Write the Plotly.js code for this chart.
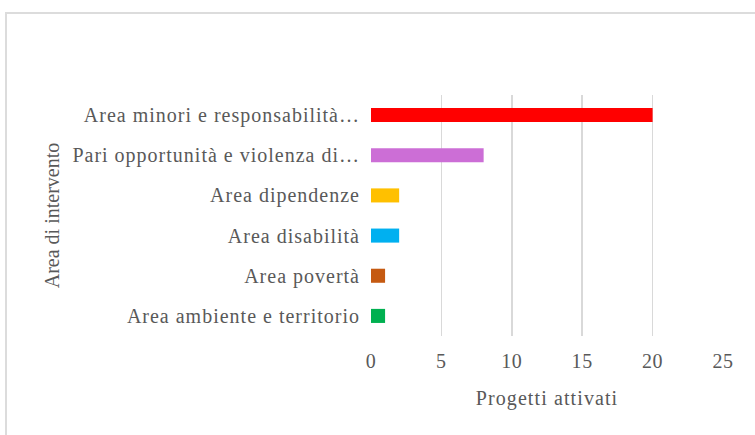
<!DOCTYPE html>
<html>
<head>
<meta charset="utf-8">
<script src="https://cdn.plot.ly/plotly-3.0.1.min.js"></script>
<style>
html,body{margin:0;padding:0;background:#fff;overflow:hidden;}
#wrap{position:relative;width:755px;height:435px;}
#frame{position:absolute;left:5px;top:12px;width:760px;height:440px;border:2px solid #dcdcdc;box-sizing:border-box;pointer-events:none;}
#chart{position:absolute;left:0;top:0;width:755px;height:435px;}
#chart .ytick text{letter-spacing:1.0px;}
#chart .xtick text{letter-spacing:0.6px;}
#chart .g-xtitle text{letter-spacing:1.1px;}
</style>
</head>
<body>
<div id="wrap">
<div id="chart"></div>
<div id="frame"></div>
</div>
<script>
var categories = [
  "Area minori e responsabilità…",
  "Pari opportunità e violenza di…",
  "Area dipendenze",
  "Area disabilità",
  "Area povertà",
  "Area ambiente e territorio"
];
var values = [20, 8, 2, 2, 1, 1];
var barColors = ["#FF0000", "#CC6ED6", "#FFC000", "#00B0F0", "#C55A11", "#00B050"];
var xTicks = [0, 5, 10, 15, 20, 25];
var xTitle = "Progetti attivati";
var yTitle = "Area di intervento";

var font = "Liberation Serif, Times New Roman, serif";
var trace = {
  type: "bar",
  orientation: "h",
  x: values,
  y: categories,
  marker: {color: barColors},
  hoverinfo: "x+y"
};
var layout = {
  width: 755, height: 435,
  margin: {l: 371, r: 32, t: 95, b: 99},
  paper_bgcolor: "rgba(0,0,0,0)",
  plot_bgcolor: "rgba(0,0,0,0)",
  bargap: 0.65,
  showlegend: false,
  font: {family: font, color: "#595959", size: 20},
  xaxis: {
    range: [0, 25],
    tickvals: xTicks,
    ticktext: xTicks.map(String),
    showgrid: true,
    gridcolor: "#d9d9d9",
    gridwidth: 1.5,
    zeroline: false,
    showline: false,
    ticks: "",
    ticklabelstandoff: 11,
    tickfont: {family: font, size: 20, color: "#595959"},
    title: {text: xTitle, font: {family: font, size: 20, color: "#595959"}, standoff: 19},
    fixedrange: true
  },
  yaxis: {
    categoryorder: "array",
    categoryarray: categories.slice().reverse(),
    autorange: true,
    showgrid: false,
    zeroline: false,
    showline: false,
    ticks: "",
    ticklabelstandoff: 10,
    tickfont: {family: font, size: 20, color: "#595959"},
    title: {text: yTitle, font: {family: font, size: 20, color: "#595959"}, standoff: 38},
    fixedrange: true
  }
};
Plotly.newPlot("chart", [trace], layout, {displayModeBar: false, staticPlot: true});
</script>
</body>
</html>
